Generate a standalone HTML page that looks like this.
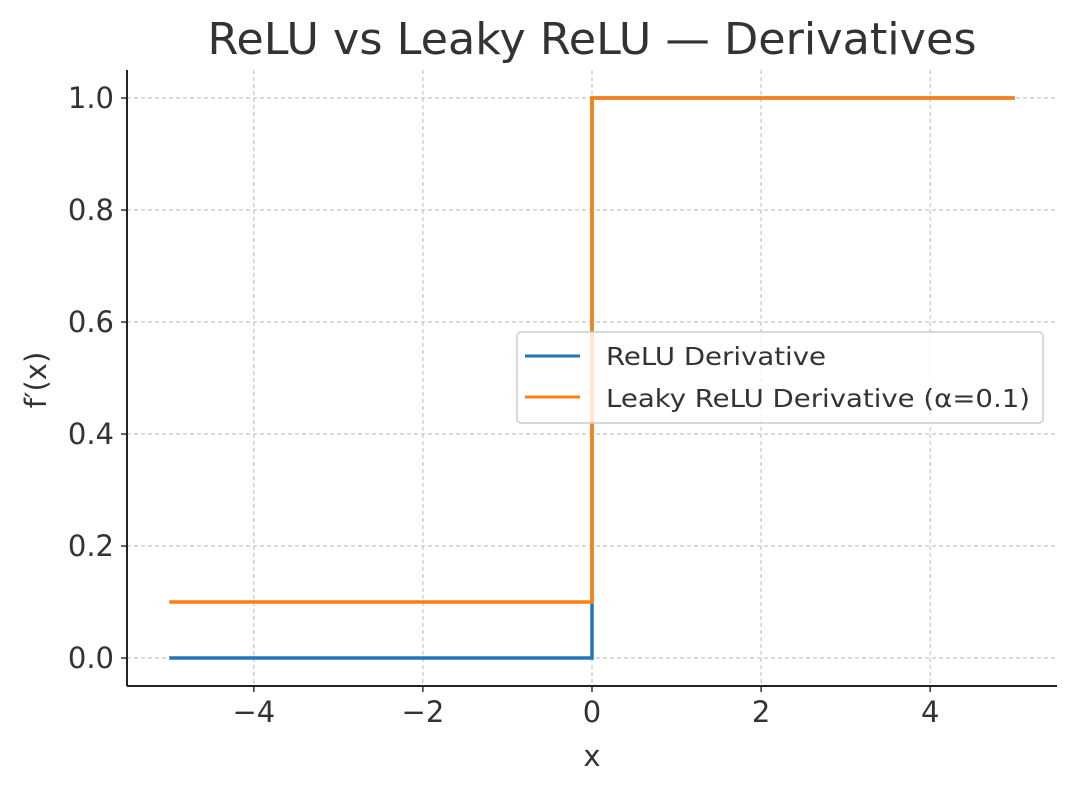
<!DOCTYPE html>
<html><head><meta charset="utf-8"><style>
body{margin:0;background:#fff}
svg text{font-family:"DejaVu Sans","Liberation Sans",sans-serif;fill:#333}
</style></head><body>
<svg width="1077" height="793" viewBox="0 0 1077 793">
<g id="grid"></g>
<g id="series"></g>
<g id="axes"></g>
<text x="592" y="54" font-size="44" text-anchor="middle" textLength="769" lengthAdjust="spacingAndGlyphs">ReLU vs Leaky ReLU — Derivatives</text>
<text x="592" y="766" font-size="29" text-anchor="middle">x</text>
<text transform="translate(46,380) rotate(-90)" font-size="29" text-anchor="middle">f′(x)</text>
<g>
<rect x="517" y="332" width="526" height="91" rx="4" fill="#fff" fill-opacity="0.8" stroke="#ccc" stroke-width="1.5"/>
<line x1="525" y1="356" x2="580" y2="356" stroke="#1f77b4" stroke-width="3"/>
<text x="606" y="365" font-size="25" textLength="220" lengthAdjust="spacingAndGlyphs">ReLU Derivative</text>
<line x1="525" y1="397" x2="580" y2="397" stroke="#ff7f0e" stroke-width="3"/>
<text x="606" y="407" font-size="25" textLength="424" lengthAdjust="spacingAndGlyphs">Leaky ReLU Derivative (α=0.1)</text>
</g>
</svg>
<script>
const xVals=[-5,0,0,5];
const reluVals=[0,0,1,1];
const leakyVals=[0.1,0.1,1,1];
const xTicks=[-4,-2,0,2,4];
const xTickLabels=["−4","−2","0","2","4"];
const yTicks=[0,0.2,0.4,0.6,0.8,1.0];
const yTickLabels=["0.0","0.2","0.4","0.6","0.8","1.0"];
const NS="http://www.w3.org/2000/svg";
const L=127,R=1057,T=70,B=686;
const xMin=-5.5,xMax=5.5,yMin=-0.05,yMax=1.05;
const sx=v=>L+(v-xMin)/(xMax-xMin)*(R-L);
const sy=v=>B-(v-yMin)/(yMax-yMin)*(B-T);
function mk(tag,attrs,parent){const e=document.createElementNS(NS,tag);for(const k in attrs)e.setAttribute(k,attrs[k]);parent.appendChild(e);return e;}
const grid=document.getElementById('grid'),axes=document.getElementById('axes'),series=document.getElementById('series');
xTicks.forEach((t,i)=>{
 const g=mk('line',{x1:sx(t),x2:sx(t),y1:T,y2:B,stroke:'#c4c4c4','stroke-dasharray':'4,3','stroke-width':1.2},grid);
 
 
 const tk=mk('line',{x1:sx(t),x2:sx(t),y1:B,y2:B+6,stroke:'#333','stroke-width':1.5},axes);
 
 
 const tx=mk('text',{x:sx(t),y:B+36,'font-size':29,'text-anchor':'middle'},axes);
 tx.textContent=xTickLabels[i];
 
 
});
yTicks.forEach((t,i)=>{
 const g=mk('line',{x1:L,x2:R,y1:sy(t),y2:sy(t),stroke:'#c4c4c4','stroke-dasharray':'4,3','stroke-width':1.2},grid);
 
 
 const tk=mk('line',{x1:L-6,x2:L,y1:sy(t),y2:sy(t),stroke:'#333','stroke-width':1.5},axes);
 
 
 const tx=mk('text',{x:L-13,y:sy(t)+10,'font-size':29,'text-anchor':'end'},axes);
 tx.textContent=yTickLabels[i];
 
 
});
const ax1=mk('line',{x1:L,x2:L,y1:T,y2:B,stroke:'#222','stroke-width':2},axes);


const ax2=mk('line',{x1:L,x2:R,y1:B,y2:B,stroke:'#222','stroke-width':2},axes);


function path(vals,color,name){
 const d=xVals.map((x,i)=>(i?'L':'M')+sx(x)+','+sy(vals[i])).join(' ');
 const p=mk('path',{d:d,fill:'none',stroke:color,'stroke-width':3.5},series);
 
 
}
path(reluVals,'#1f77b4','relu-derivative-line');
path(leakyVals,'#ff7f0e','leaky-relu-derivative-line');
</script>
</body></html>
